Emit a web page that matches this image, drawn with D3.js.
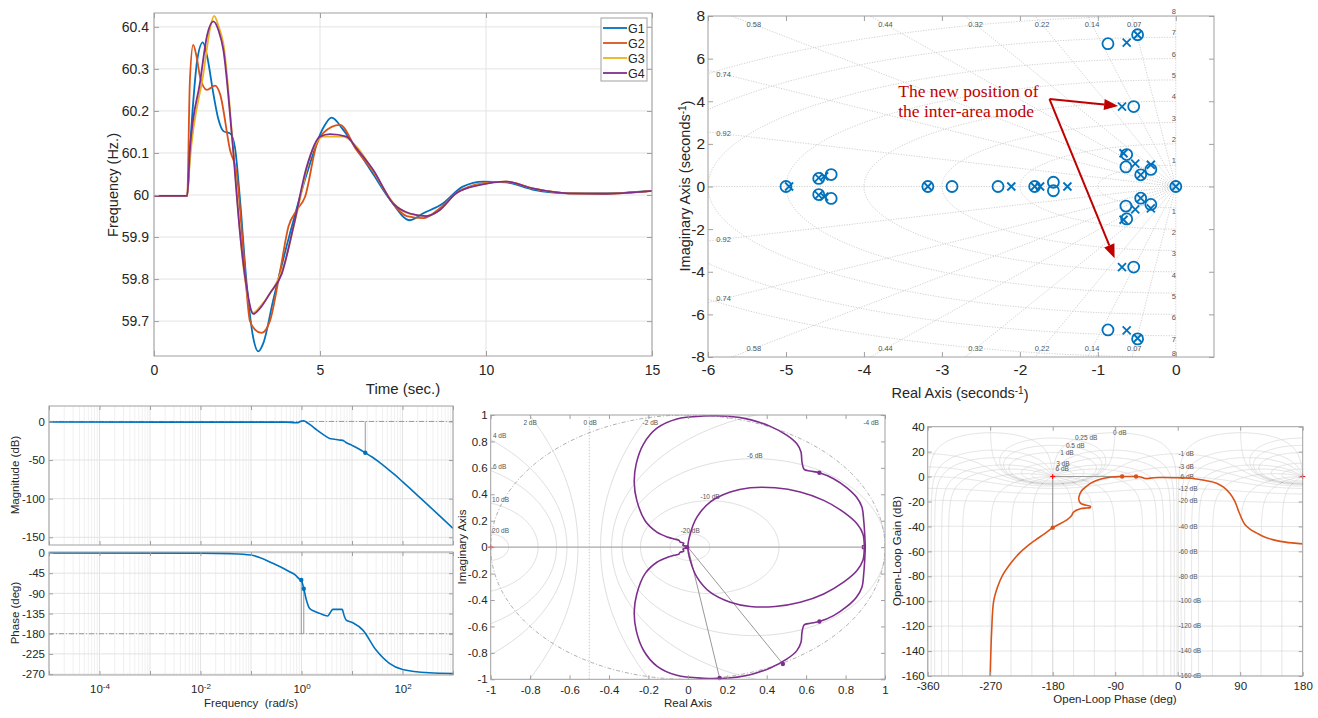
<!DOCTYPE html>
<html>
<head>
<meta charset="utf-8">
<script src="https://cdn.jsdelivr.net/npm/d3@7"></script>
<style>
body { margin: 0; background: #fff; }
svg { font-family: "Liberation Sans", Arial, sans-serif; }
</style>
</head>
<body>
<svg id="fig" width="1318" height="718"></svg>
<script>
// ---------------- data ----------------
// frequency response of the four generators, [time s, Hz]
const freqG1 = [[0,59.998],[1.0,59.998],[1.1,60.13],[1.2,60.24],[1.3,60.32],[1.47,60.363],[1.6,60.33],[1.79,60.24],[1.94,60.18],[2.09,60.152],[2.3,60.146],[2.44,60.112],[2.59,59.99],[2.79,59.79],[2.99,59.66],[3.14,59.628],[3.29,59.647],[3.59,59.75],[4.1,59.91],[4.6,60.05],[5.1,60.16],[5.35,60.184],[5.7,60.155],[6.1,60.11],[6.6,60.05],[7.1,59.99],[7.71,59.94],[8.1,59.956],[8.7,59.98],[9.3,60.02],[9.92,60.032],[10.6,60.03],[11.4,60.013],[12.5,60.004],[13.5,60.004],[15,60.01]];
const freqG2 = [[0,59.998],[1.0,59.998],[1.08,60.27],[1.18,60.357],[1.28,60.33],[1.39,60.28],[1.59,60.25],[1.84,60.26],[1.99,60.24],[2.29,60.107],[2.49,60.05],[2.69,59.87],[2.89,59.70],[3.04,59.68],[3.24,59.672],[3.49,59.70],[3.8,59.82],[4.05,59.925],[4.3,59.964],[4.55,59.996],[4.9,60.12],[5.1,60.148],[5.6,60.167],[6.1,60.107],[6.6,60.056],[7.2,59.98],[7.61,59.95],[8.11,59.945],[8.6,59.968],[9.1,60.004],[9.92,60.028],[10.6,60.032],[11.4,60.016],[12.5,60.004],[13.5,60.003],[15,60.01]];
const freqG3 = [[0,59.998],[1.0,59.998],[1.08,60.08],[1.49,60.29],[1.7,60.40],[1.81,60.426],[1.95,60.40],[2.09,60.36],[2.39,60.107],[2.69,59.83],[2.99,59.72],[3.2,59.735],[3.49,59.765],[3.9,59.83],[4.3,59.956],[4.7,60.09],[5.1,60.139],[5.7,60.139],[6.1,60.115],[6.6,60.058],[7.2,59.982],[7.71,59.955],[8.2,59.95],[8.6,59.964],[9.1,60.004],[9.82,60.025],[10.6,60.032],[11.4,60.016],[12.5,60.004],[13.5,60.003],[15,60.01]];
const freqG4 = [[0,59.998],[1.0,59.998],[1.08,60.107],[1.39,60.27],[1.6,60.38],[1.79,60.413],[1.95,60.39],[2.09,60.345],[2.34,60.147],[2.59,59.91],[2.79,59.78],[2.99,59.717],[3.19,59.73],[3.49,59.766],[3.85,59.813],[4.2,59.925],[4.6,60.067],[5.0,60.139],[5.3,60.145],[5.8,60.139],[6.1,60.111],[6.6,60.06],[7.2,59.98],[7.71,59.956],[8.2,59.95],[8.6,59.964],[9.1,60.004],[9.82,60.024],[10.6,60.032],[11.4,60.016],[12.5,60.004],[13.5,60.003],[15,60.01]];
const genNames = ["G1", "G2", "G3", "G4"];
const timeTicks = [0, 5, 10, 15];
const hzTicks = [59.7, 59.8, 59.9, 60, 60.1, 60.2, 60.3, 60.4];

// pole-zero map, [real, imag]
const poles = [[-4.96,0],[-4.58,0.41],[-4.58,-0.41],[-4.51,0.47],[-4.51,-0.47],[-3.18,0],[-2.11,0],[-1.81,0],[-1.74,0],[-1.39,0],[0,0],
  [-0.63,6.75],[-0.63,-6.75],[-0.49,7.12],[-0.49,-7.12],[-0.69,3.75],[-0.69,-3.78],[-0.67,1.56],[-0.67,-1.56],
  [-0.52,1.07],[-0.52,-1.07],[-0.45,0.55],[-0.45,-0.55],[-0.32,1.02],[-0.32,-1.03]];
const zeros = [[-5.0,0],[-4.58,0.38],[-4.58,-0.38],[-4.42,0.56],[-4.42,-0.56],[-3.18,0],[-2.87,0],[-2.28,0],[-1.81,0],[-1.57,0.2],[-1.57,-0.2],[0,0],
  [-0.87,6.7],[-0.87,-6.73],[-0.49,7.12],[-0.49,-7.15],[-0.54,3.75],[-0.54,-3.78],[-0.63,1.5],[-0.63,-1.52],
  [-0.64,0.92],[-0.64,-0.92],[-0.45,0.55],[-0.45,-0.55],[-0.32,0.8],[-0.32,-0.84]];
const zetas = [0.07, 0.14, 0.22, 0.32, 0.44, 0.58, 0.74, 0.92];
const wns = [1, 2, 3, 4, 5, 6, 7, 8];
const realTicks = [-6, -5, -4, -3, -2, -1, 0];
const imagTicks = [-8, -6, -4, -2, 0, 2, 4, 6, 8];

// bode
const magFreq = [1e-5, 0.5, 0.75, 0.85, 1.0, 1.1, 1.25, 1.5, 2, 3, 3.6, 4.5, 5.5, 6.6, 7.5, 10, 14, 18.3, 25, 35, 50, 70, 100, 200, 500, 1000];
const magDb   = [-0.8, -0.9, -1.6, -1.5, 0.6, 0.9, -1, -4.5, -11, -19, -22, -23, -24, -24.5, -27, -31, -36, -40.6, -46, -53, -61, -69, -78, -96, -120, -138.6];
const phaseFreq = [1e-5, 0.01, 0.04, 0.1, 0.27, 0.58, 0.75, 0.91, 0.99, 1.11, 1.25, 1.44, 1.8, 2.27, 3.3, 3.7, 4.17, 6.38, 7.0, 7.67, 10.4, 16.4, 30, 55, 100, 340, 1000];
const phaseDeg  = [0, -0.3, -1.5, -4.5, -23, -41.7, -49, -58, -60.3, -79.7, -105, -123.4, -130, -134.6, -140.6, -133, -125.7, -125.7, -140, -149.6, -155.6, -171.9, -216.5, -246, -259.6, -267, -268.5];
const magTicks = [-150, -100, -50, 0];
const phaseTicks = [-270, -225, -180, -135, -90, -45, 0];
const bodeMarkers = {gm: [18.3, -40.6], pm: [[0.99, -60.3], [1.11, -79.7]]};

// nyquist, upper halves (lower halves are the conjugates)
const nyqOuterUp = [[0,0],[-0.012,0.008],[-0.025,0.014],[-0.021,0.03],[-0.04,0.04],[-0.045,0.052],[-0.07,0.062],[-0.1,0.075],[-0.157,0.114],[-0.217,0.2],[-0.259,0.354],[-0.272,0.49],[-0.262,0.63],[-0.225,0.78],[-0.157,0.9],[-0.056,0.97],[0.08,0.992],[0.206,0.99],[0.316,0.965],[0.418,0.914],[0.503,0.846],[0.553,0.783],[0.574,0.72],[0.579,0.644],[0.59,0.588],[0.621,0.576],[0.667,0.563],[0.739,0.518],[0.807,0.449],[0.855,0.379],[0.883,0.303],[0.892,0.202],[0.897,0.1],[0.9,0]];
const nyqInnerUp = [[0,0],[0.012,0.1],[0.046,0.227],[0.113,0.341],[0.215,0.417],[0.316,0.449],[0.443,0.449],[0.57,0.417],[0.689,0.354],[0.79,0.265],[0.858,0.177],[0.888,0.1],[0.895,0]];
const nyqMarkers = [[0.667,0.563],[0.667,-0.563],[0.482,-0.884],[0.161,-0.99],[-0.004,0]];
const nyqTicks = [-1, -0.8, -0.6, -0.4, -0.2, 0, 0.2, 0.4, 0.6, 0.8, 1];
const mCircleDb = [-20, -10, -6, -4, -2, 2, 4, 6, 10, 20];
const mCircleLabels = [["2 dB",-0.8,0.945],["0 dB",-0.495,0.945],["-2 dB",-0.19,0.945],["-4 dB",0.93,0.945],["4 dB",-0.955,0.84],["6 dB",-0.955,0.605],["10 dB",-0.95,0.36],["20 dB",-0.95,0.125],["-6 dB",0.34,0.695],["-10 dB",0.113,0.38],["-20 dB",0.012,0.125]];

// nichols, [phase deg, gain dB]
const nichols = [[-270,-160],[-269,-140],[-268,-125],[-265,-100],[-259,-88],[-253,-80],[-241,-70],[-229,-62],[-217,-56],[-205,-51],[-192,-46],[-180,-41],[-168,-37.5],[-159,-34.5],[-153,-31.5],[-150,-28.5],[-140,-25.8],[-131,-25.2],[-126,-24.9],[-126,-23.8],[-133,-22.8],[-140,-21.3],[-142.5,-18],[-140.5,-13.5],[-137,-10.5],[-131,-7.6],[-125,-5.3],[-115,-2.8],[-106,-1.3],[-95,-0.3],[-80,0],[-70,0],[-60,0],[-52,-0.5],[-46,-1.6],[-42,-1.5],[-35,-0.9],[-20,-0.8],[0,-1],[15,-1.2],[27,-2],[40,-3.2],[56,-5.3],[66,-8.5],[75,-13.3],[82,-19.5],[87,-26.7],[92,-33.5],[97,-38.7],[105,-42.5],[114,-45.4],[125,-48.5],[138,-50.8],[155,-52.6],[180,-54]];
const nicMarkers = [[-180,-41],[-80,0],[-60,0]];
const nicPhaseTicks = [-360, -270, -180, -90, 0, 90, 180];
const nicGainTicks = [-160, -140, -120, -100, -80, -60, -40, -20, 0, 20, 40];
const ngridGains = [6, 3, 1, 0.5, 0.25, 0, -1, -3, -6, -12, -20, -40, -60, -80, -100, -120, -140, -160];
const ngridPhases = [1, 5, 10, 20, 30, 50, 90, 120, 150, 180];
const ngridPosLabelPhase = {6: -176, 3: -175, 1: -169, 0.5: -161, 0.25: -148};

// ---------------- styles ----------------
const svg = d3.select("#fig");
const FONT = "Liberation Sans, Arial, sans-serif";
const col = {blue: "#0072BD", orange: "#D95319", yellow: "#EDB120", purple: "#7E2F8E", red: "#C00000"};
const frameColor = "#a0a0a0";
const textColor = "#262626";
const gridColor = "#e3e3e3";
const fmtNum = d => String(+d.toFixed(2));

// axes frame with inward ticks on all four sides
function drawAxes(g, x, y, o) {
  const xr = x.range(), yr = y.range();
  const bottom = g.append("g").attr("transform", `translate(0,${yr[0]})`)
    .call(d3.axisBottom(x).tickValues(o.xTicks).tickSize(-o.tick).tickPadding(o.xPad).tickFormat(o.xFmt || fmtNum));
  const left = g.append("g").attr("transform", `translate(${xr[0]},0)`)
    .call(d3.axisLeft(y).tickValues(o.yTicks).tickSize(-o.tick).tickPadding(o.yPad).tickFormat(o.yFmt || fmtNum));
  const top = g.append("g").attr("transform", `translate(0,${yr[1]})`)
    .call(d3.axisTop(x).tickValues(o.xTicks).tickSize(-o.tick).tickFormat(""));
  const right = g.append("g").attr("transform", `translate(${xr[1]},0)`)
    .call(d3.axisRight(y).tickValues(o.yTicks).tickSize(-o.tick).tickFormat(""));
  [bottom, left, top, right].forEach(a => {
    a.attr("font-family", FONT).attr("font-size", o.font);
    a.select(".domain").remove();
    a.selectAll("line").attr("stroke", frameColor);
    a.selectAll("text").attr("fill", textColor);
  });
  g.append("rect")
    .attr("x", xr[0]).attr("y", yr[1])
    .attr("width", xr[1] - xr[0]).attr("height", yr[0] - yr[1])
    .attr("fill", "none").attr("stroke", frameColor);
  return {bottom, left};
}

function clipFor(id, x, y) {
  const xr = x.range(), yr = y.range();
  svg.append("clipPath").attr("id", id).append("rect")
    .attr("x", xr[0]).attr("y", yr[1]).attr("width", xr[1] - xr[0]).attr("height", yr[0] - yr[1]);
  return `url(#${id})`;
}

function title(text, x, y, size, rotate) {
  const t = svg.append("text")
    .attr("transform", rotate ? `translate(${x},${y}) rotate(-90)` : `translate(${x},${y})`)
    .attr("text-anchor", "middle")
    .attr("font-size", size)
    .attr("fill", textColor)
    .style("white-space", "pre")
    .text(text);
  if (rotate) t.attr("dy", "0.35em");
  return t;
}

// ---------------- panel 1: time response ----------------
{
  const x = d3.scaleLinear().domain([0, 15]).range([154, 652]);
  const y = d3.scaleLinear().domain([59.617, 60.433]).range([356, 13]);
  const g = svg.append("g");
  const grid = g.append("g").attr("stroke", gridColor);
  timeTicks.forEach(t => grid.append("line").attr("x1", x(t)).attr("x2", x(t)).attr("y1", y.range()[0]).attr("y2", y.range()[1]));
  hzTicks.forEach(v => grid.append("line").attr("y1", y(v)).attr("y2", y(v)).attr("x1", x.range()[0]).attr("x2", x.range()[1]));

  const clip = clipFor("c1", x, y);
  const line = d3.line().x(d => x(d[0])).y(d => y(d[1])).curve(d3.curveMonotoneX);
  const series = [freqG1, freqG2, freqG3, freqG4];
  const colors = [col.blue, col.orange, col.yellow, col.purple];
  series.forEach((s, i) => {
    g.append("path").attr("d", line(s)).attr("fill", "none")
      .attr("stroke", colors[i]).attr("stroke-width", 1.8).attr("clip-path", clip);
  });

  drawAxes(g, x, y, {xTicks: timeTicks, yTicks: hzTicks, tick: 5, xPad: 9, yPad: 5, font: 14,
    yFmt: d => d === 60 ? "60" : d.toFixed(1)});

  title("Frequency (Hz.)", 113, 185, 14.5, true);
  title("Time (sec.)", 403, 394, 15, false);

  // legend
  const lg = g.append("g");
  lg.append("rect").attr("x", 601).attr("y", 18).attr("width", 46).attr("height", 63)
    .attr("fill", "#fff").attr("stroke", frameColor);
  genNames.forEach((n, i) => {
    const yy = 28 + i * 15;
    lg.append("line").attr("x1", 603).attr("x2", 627).attr("y1", yy).attr("y2", yy)
      .attr("stroke", colors[i]).attr("stroke-width", 1.8);
    lg.append("text").attr("x", 628).attr("y", yy).attr("dy", "0.36em")
      .attr("font-size", 12.5).attr("fill", textColor).text(n);
  });
}

// ---------------- panel 2: pole-zero map ----------------
{
  const x = d3.scaleLinear().domain([-6, 0.49]).range([708, 1214]);
  const y = d3.scaleLinear().domain([-8, 8]).range([357, 16]);
  const g = svg.append("g");
  const clip = clipFor("c2", x, y);
  const grid = g.append("g").attr("clip-path", clip).attr("fill", "none")
    .attr("stroke", "#c4c4c4").attr("stroke-width", 0.8).attr("stroke-dasharray", "1.2,1.4");
  const line = d3.line().x(d => x(d[0])).y(d => y(d[1]));

  // axis lines
  grid.append("line").attr("x1", x.range()[0]).attr("x2", x.range()[1]).attr("y1", y(0)).attr("y2", y(0));
  grid.append("line").attr("x1", x(0)).attr("x2", x(0)).attr("y1", y.range()[0]).attr("y2", y.range()[1]);
  // damping rays
  zetas.forEach(z => {
    const th = Math.acos(z);
    [1, -1].forEach(s => grid.append("path").attr("d", line([[0, 0], [-20 * Math.cos(th), s * 20 * Math.sin(th)]])));
  });
  // natural frequency semicircles
  wns.forEach(w => {
    const pts = d3.range(0, 181).map(i => {
      const a = Math.PI / 2 + i * Math.PI / 180;
      return [w * Math.cos(a), w * Math.sin(a)];
    });
    grid.append("path").attr("d", line(pts));
  });

  // grid labels
  const lab = g.append("g").attr("font-size", 7.5).attr("fill", "#555").attr("text-anchor", "middle");
  zetas.forEach(z => {
    const th = Math.acos(z), t = Math.tan(th);
    [1, -1].forEach(s => {
      let px, py;
      if (6 * t > 7.8) { px = -7.6 / t; py = s * 7.6; }
      else { px = -5.8; py = s * 5.8 * t; }
      lab.append("text").attr("x", x(px)).attr("y", y(py)).attr("dy", "0.35em").text(z);
    });
  });
  wns.forEach(w => {
    lab.append("text").attr("x", x(0) - 2).attr("y", y(w) - 2).text(w);
    // keep the lowest label clear of the tick label under the frame
    lab.append("text").attr("x", x(0) - 2).attr("y", Math.min(y(-w) + 6, y.range()[0] - 1.5)).text(w);
  });

  // markers
  const mk = g.append("g").attr("fill", "none").attr("stroke", col.blue).attr("stroke-width", 1.8);
  zeros.forEach(d => mk.append("circle").attr("cx", x(d[0])).attr("cy", y(d[1])).attr("r", 5.5));
  poles.forEach(d => {
    const cx = x(d[0]), cy = y(d[1]), r = 4;
    mk.append("path").attr("d", `M${cx - r},${cy - r}L${cx + r},${cy + r}M${cx - r},${cy + r}L${cx + r},${cy - r}`);
  });

  drawAxes(g, x, y, {xTicks: realTicks, yTicks: imagTicks, tick: 5, xPad: 7, yPad: 3, font: 15.5});

  // axis titles with superscript
  const yt = svg.append("text").attr("transform", `translate(685,186) rotate(-90)`)
    .attr("text-anchor", "middle").attr("dy", "0.35em").attr("font-size", 14.5).attr("fill", textColor);
  yt.append("tspan").text("Imaginary Axis (seconds");
  yt.append("tspan").attr("dy", "-0.45em").attr("font-size", 10).text("-1");
  yt.append("tspan").attr("dy", "0.45em").text(")");
  const xt = svg.append("text").attr("x", 960).attr("y", 398)
    .attr("text-anchor", "middle").attr("font-size", 14.5).attr("fill", textColor);
  xt.append("tspan").text("Real Axis (seconds");
  xt.append("tspan").attr("dy", "-0.45em").attr("font-size", 10).text("-1");
  xt.append("tspan").attr("dy", "0.45em").text(")");

  // annotation
  const ann = g.append("g");
  ann.append("text").attr("x", x(-3.56)).attr("y", y(4.2)).attr("font-family", "Liberation Serif, Times New Roman, serif")
    .attr("font-size", 17.5).attr("fill", col.red).text("The new position of");
  ann.append("text").attr("x", x(-3.56)).attr("y", y(3.27)).attr("font-family", "Liberation Serif, Times New Roman, serif")
    .attr("font-size", 17.5).attr("fill", col.red).text("the inter-area mode");
  const from = [x(-1.62), y(4.1)];
  [[x(-0.74), y(3.78)], [x(-0.785), y(-3.37)]].forEach(tip => {
    const dx = tip[0] - from[0], dy = tip[1] - from[1], L = Math.hypot(dx, dy);
    const ux = dx / L, uy = dy / L, hl = 14, hw = 5.5;
    const bx = tip[0] - ux * hl, by = tip[1] - uy * hl;
    ann.append("line").attr("x1", from[0]).attr("y1", from[1]).attr("x2", bx).attr("y2", by)
      .attr("stroke", col.red).attr("stroke-width", 2);
    ann.append("path").attr("fill", col.red)
      .attr("d", `M${tip[0]},${tip[1]}L${bx - uy * hw},${by + ux * hw}L${bx + uy * hw},${by - ux * hw}Z`);
  });
}

// ---------------- panel 3: bode ----------------
{
  const x = d3.scaleLog().domain([1e-5, 1e3]).range([49, 453]);
  const yM = d3.scaleLinear().domain([-160, 20]).range([545, 406]);
  const yP = d3.scaleLinear().domain([-272, 2.2]).range([675, 552]);
  const decades = d3.range(-5, 4).map(k => Math.pow(10, k));
  const minors = [];
  decades.slice(0, -1).forEach(d => { for (let k = 2; k <= 9; k++) minors.push(d * k); });

  [[yM, magTicks, "c3a", 0, "mag"], [yP, phaseTicks, "c3b", -180, "ph"]].forEach(([y, ticks, cid, ref, kind]) => {
    const g = svg.append("g");
    const grid = g.append("g");
    minors.forEach(f => grid.append("line").attr("x1", x(f)).attr("x2", x(f)).attr("y1", y.range()[0]).attr("y2", y.range()[1]).attr("stroke", "#f0f0f0"));
    decades.forEach(f => grid.append("line").attr("x1", x(f)).attr("x2", x(f)).attr("y1", y.range()[0]).attr("y2", y.range()[1]).attr("stroke", gridColor));
    ticks.forEach(v => grid.append("line").attr("y1", y(v)).attr("y2", y(v)).attr("x1", x.range()[0]).attr("x2", x.range()[1]).attr("stroke", gridColor));
    const clip = clipFor(cid, x, y);
    g.append("line").attr("x1", x.range()[0]).attr("x2", x.range()[1]).attr("y1", y(ref)).attr("y2", y(ref))
      .attr("stroke", "#999").attr("stroke-dasharray", "5,2,1,2");
    const line = d3.line().x(d => x(d[0])).y(d => y(d[1])).curve(d3.curveMonotoneX);
    const data = kind === "mag" ? magFreq.map((f, i) => [f, magDb[i]]) : phaseFreq.map((f, i) => [f, phaseDeg[i]]);
    const mk = kind === "mag" ? [bodeMarkers.gm] : bodeMarkers.pm;
    mk.forEach(m => g.append("line").attr("x1", x(m[0])).attr("x2", x(m[0])).attr("y1", y(ref)).attr("y2", y(m[1])).attr("stroke", "#999"));
    g.append("path").attr("d", line(data)).attr("fill", "none").attr("stroke", col.blue).attr("stroke-width", 1.6).attr("clip-path", clip);
    mk.forEach(m => g.append("circle").attr("cx", x(m[0])).attr("cy", y(m[1])).attr("r", 2.2).attr("fill", col.blue));

    const ax = drawAxes(g, x, y, {xTicks: decades, yTicks: ticks, tick: 4, xPad: 10, yPad: 4, font: 11.5,
      xFmt: () => ""});
    if (kind === "ph") {
      ax.bottom.selectAll("text").each(function(d) {
        const e = Math.round(Math.log10(d));
        if (e % 2 !== 0 || e === -5 || e === 3) return;
        const t = d3.select(this);
        t.append("tspan").text("10");
        t.append("tspan").attr("dy", "-0.5em").attr("font-size", 8).text(e);
      });
    }
  });
  title("Magnitude (dB)", 15, 475, 11.5, true);
  title("Phase (deg)", 15, 613, 11.5, true);
  title("Frequency  (rad/s)", 251, 707, 11.5, false);
}

// ---------------- panel 4: nyquist ----------------
{
  const x = d3.scaleLinear().domain([-1, 1]).range([490.7, 885]);
  const y = d3.scaleLinear().domain([-1, 1]).range([679.3, 415]);
  const g = svg.append("g");
  const clip = clipFor("c4", x, y);
  const line = d3.line().x(d => x(d[0])).y(d => y(d[1]));
  const grid = g.append("g").attr("clip-path", clip).attr("fill", "none").attr("stroke", "#d6d6d6").attr("stroke-width", 0.8);
  mCircleDb.forEach(db => {
    const M = Math.pow(10, db / 20), c = -M * M / (M * M - 1), r = Math.abs(M / (M * M - 1));
    grid.append("path").attr("d", line(d3.range(0, 361).map(a => [c + r * Math.cos(a * Math.PI / 180), r * Math.sin(a * Math.PI / 180)])));
  });
  grid.append("line").attr("x1", x(-0.5)).attr("x2", x(-0.5)).attr("y1", y.range()[0]).attr("y2", y.range()[1])
    .attr("stroke-dasharray", "1.5,1.5").attr("stroke", "#bbb");
  grid.append("path").attr("d", line(d3.range(0, 361).map(a => [Math.cos(a * Math.PI / 180), Math.sin(a * Math.PI / 180)])))
    .attr("stroke", "#9a9a9a").attr("stroke-dasharray", "4,2,1,2");
  grid.append("line").attr("x1", x.range()[0]).attr("x2", x(0.9)).attr("y1", y(0)).attr("y2", y(0)).attr("stroke", "#a8a8a8").attr("stroke-width", 1.1);

  const lab = g.append("g").attr("font-size", 6.5).attr("fill", "#555").attr("text-anchor", "middle");
  mCircleLabels.forEach(l => lab.append("text").attr("x", x(l[1])).attr("y", y(l[2])).attr("dy", "0.35em").text(l[0]));

  // margin lines
  nyqMarkers.slice(2, 4).forEach(m => g.append("line").attr("x1", x(0)).attr("y1", y(0)).attr("x2", x(m[0])).attr("y2", y(m[1])).attr("stroke", "#999"));

  const conj = pts => pts.map(d => [d[0], -d[1]]).reverse();
  const curve = d3.line().x(d => x(d[0])).y(d => y(d[1])).curve(d3.curveCatmullRom.alpha(0.5));
  const outer = conj(nyqOuterUp).concat(nyqOuterUp.slice(1));
  const inner = conj(nyqInnerUp).concat(nyqInnerUp.slice(1));
  [outer, inner].forEach(p => g.append("path").attr("d", curve(p)).attr("fill", "none")
    .attr("stroke", col.purple).attr("stroke-width", 1.6).attr("clip-path", clip));
  g.append("rect").attr("x", x(0.885)).attr("y", y(0.012)).attr("width", x(0.9) - x(0.885)).attr("height", y(-0.012) - y(0.012))
    .attr("fill", "none").attr("stroke", col.purple).attr("stroke-width", 1);
  nyqMarkers.forEach(m => g.append("circle").attr("cx", x(m[0])).attr("cy", y(m[1])).attr("r", 2.2).attr("fill", col.purple));
  g.append("path").attr("d", `M${x(-1) - 2.5},${y(0)}h5M${x(-1)},${y(0) - 2.5}v5`).attr("stroke", "red").attr("stroke-width", 1);

  drawAxes(g, x, y, {xTicks: nyqTicks, yTicks: nyqTicks, tick: 4, xPad: 7, yPad: 3, font: 11.5});
  title("Imaginary Axis", 462, 547, 11.5, true);
  title("Real Axis", 688, 707, 11.5, false);
}

// ---------------- panel 5: nichols ----------------
{
  const x = d3.scaleLinear().domain([-360, 180]).range([927.7, 1302.7]);
  const y = d3.scaleLinear().domain([-160, 40]).range([676, 426.7]);
  const g = svg.append("g");
  const clip = clipFor("c5", x, y);

  // closed-loop contours: G = T / (1 - T)
  const gOfT = (tr, ti) => {
    const dr = 1 - tr, di = -ti, den = dr * dr + di * di;
    return [(tr * dr + ti * di) / den, (ti * dr - tr * di) / den];
  };
  const push = (arr, re, im) => {
    let p = Math.atan2(im, re) * 180 / Math.PI;
    const gdb = 10 * Math.log10(re * re + im * im);
    if (arr.length) {
      const prev = arr[arr.length - 1][0];
      while (p - prev > 180) p -= 360;
      while (p - prev < -180) p += 360;
    }
    arr.push([p, Math.max(gdb, -200)]);
  };
  const line = d3.line().x(d => x(d[0])).y(d => y(d[1]));
  const grid = g.append("g").attr("clip-path", clip).attr("fill", "none").attr("stroke", "#d8d8d8").attr("stroke-width", 0.7);
  const n = 700;
  ngridGains.forEach(db => {
    const m = Math.pow(10, db / 20), pts = [];
    for (let i = 0; i <= n; i++) {
      let th = Math.PI * (1 - Math.cos(Math.PI * i / n));
      if (db === 0) th = 0.01 + th * (2 * Math.PI - 0.02) / (2 * Math.PI);
      const [re, im] = gOfT(m * Math.cos(th), m * Math.sin(th));
      push(pts, re, im);
    }
    [-360, 0].forEach(off => grid.append("path").attr("d", line(pts.map(d => [d[0] + off, d[1]]))));
  });
  const us = d3.range(-9, 9, 0.03).concat(d3.range(-0.06, 0.06, 0.0006)).sort((a, b) => a - b);
  ngridPhases.concat(ngridPhases.map(p => -p)).forEach(phi => {
    const a = phi * Math.PI / 180, pts = [];
    us.forEach(u => {
      const r = Math.pow(10, u);
      const [re, im] = gOfT(r * Math.cos(a), r * Math.sin(a));
      push(pts, re, im);
    });
    [-360, 0, 360].forEach(off => grid.append("path").attr("d", line(pts.map(d => [d[0] + off, d[1]]))));
  });

  // contour labels
  const lab = g.append("g").attr("font-size", 6.5).attr("fill", "#555");
  ngridGains.forEach(db => {
    const m = Math.pow(10, db / 20);
    if (db > 0) {
      const gdb = 20 * Math.log10(m / (m - 1));
      lab.append("text").attr("x", x(ngridPosLabelPhase[db])).attr("y", y(gdb)).attr("dy", "0.35em").text(db + " dB");
    } else if (db === 0) {
      lab.append("text").attr("x", x(-93)).attr("y", y(35)).attr("dy", "0.35em").text("0 dB");
    } else {
      const gdb = 20 * Math.log10(m / (1 - m));
      lab.append("text").attr("x", x(1)).attr("y", y(gdb)).attr("dy", "0.35em").text(db + " dB");
    }
  });

  // margin lines
  g.append("line").attr("x1", x(-180)).attr("x2", x(-180)).attr("y1", y(0)).attr("y2", y(-41)).attr("stroke", "#999");
  g.append("line").attr("x1", x(-180)).attr("x2", x(-60)).attr("y1", y(0)).attr("y2", y(0)).attr("stroke", "#999");

  const curve = d3.line().x(d => x(d[0])).y(d => y(d[1])).curve(d3.curveCatmullRom.alpha(0.5));
  g.append("path").attr("d", curve(nichols)).attr("fill", "none").attr("stroke", col.orange)
    .attr("stroke-width", 1.6).attr("clip-path", clip);
  nicMarkers.forEach(m => g.append("circle").attr("cx", x(m[0])).attr("cy", y(m[1])).attr("r", 2.2).attr("fill", col.orange));
  [-180, 180].forEach(p => g.append("path").attr("d", `M${x(p) - 2.5},${y(0)}h5M${x(p)},${y(0) - 2.5}v5`)
    .attr("stroke", "red").attr("stroke-width", 1));

  drawAxes(g, x, y, {xTicks: nicPhaseTicks, yTicks: nicGainTicks, tick: 4, xPad: 6, yPad: 3, font: 11.5});
  title("Open-Loop Gain (dB)", 897, 551, 11.5, true);
  title("Open-Loop Phase (deg)", 1115, 703, 11.5, false);
}
</script>
</body>
</html>
